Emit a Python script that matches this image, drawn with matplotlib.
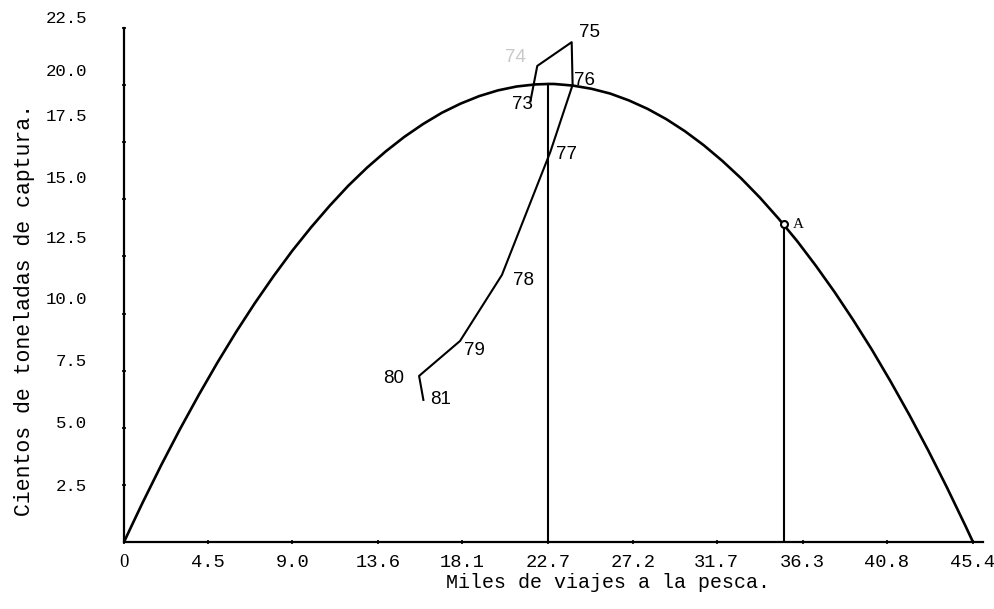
import matplotlib
matplotlib.use("Agg")
import matplotlib.pyplot as plt
from matplotlib.transforms import offset_copy

# ---- data ----
# sustainable-yield curve (thousands of trips, hundreds of tons)
curve_x = [0, 0.5, 1, 2, 3, 4, 5, 6, 7, 8, 9, 10, 11, 12, 13, 14, 15, 16, 17,
           18, 19, 20, 21, 22, 22.7, 23, 24, 25, 26, 27, 28, 29, 30, 31, 32,
           33, 34, 35, 36, 37, 38, 39, 40, 41, 42, 43, 44, 45, 45.4]
curve_y = [0.0, 0.87, 1.73, 3.38, 4.95, 6.44, 7.86, 9.20, 10.46, 11.64, 12.75,
           13.77, 14.72, 15.60, 16.39, 17.10, 17.74, 18.30, 18.79, 19.19, 19.52,
           19.77, 19.94, 20.03, 20.05, 20.05, 19.98, 19.84, 19.63, 19.33, 18.96,
           18.51, 17.98, 17.37, 16.68, 15.92, 15.08, 14.16, 13.17, 12.09, 10.94,
           9.71, 8.41, 7.02, 5.56, 4.02, 2.40, 0.70, 0.0]

# observed yearly trajectory
years = ["73", "74", "75", "76", "77", "78", "79", "80", "81"]
traj_x = [21.73, 22.10, 23.94, 23.99, 22.80, 20.21, 17.97, 15.78, 16.01]
traj_y = [19.28, 20.84, 21.88, 20.01, 17.08, 11.69, 8.80, 7.27, 6.22]

# maximum sustainable yield and point A
msy_x, msy_y = 22.7, 20.05
a_x, a_y = 35.3, 13.9

xticks = [0, 4.5, 9.0, 13.6, 18.1, 22.7, 27.2, 31.7, 36.3, 40.8, 45.4]
xtick_labels = ["0", "4.5", "9.0", "13.6", "18.1", "22.7", "27.2", "31.7",
                "36.3", "40.8", "45.4"]
yticks = [2.5, 5.0, 7.5, 10.0, 12.5, 15.0, 17.5, 20.0, 22.5]
ytick_labels = ["2.5", "5.0", "7.5", "10.0", "12.5", "15.0", "17.5", "20.0", "22.5"]

# ---- layout ----
W, H = 994, 609
fig = plt.figure(figsize=(W / 100, H / 100), dpi=100)
ax = fig.add_axes([124 / W, 67 / H, 859 / W, 514 / H])
ax.set_xlim(0, 859 / 18.70)
ax.set_ylim(0, 22.5)

mono = "Liberation Mono"
for s in ["top", "right"]:
    ax.spines[s].set_visible(False)
for s in ["left", "bottom"]:
    ax.spines[s].set_linewidth(1.6)
    ax.spines[s].set_color("black")

ax.set_xticks(xticks)
ax.set_xticklabels(xtick_labels, fontfamily=mono, fontsize=13.5)
ax.set_yticks(yticks)
ax.set_yticklabels(ytick_labels, fontfamily=mono, fontsize=12.5)
ax.tick_params(axis="x", direction="inout", length=3, width=1.2, pad=7)
ax.tick_params(axis="y", direction="inout", length=3, width=1.2, pad=25)

# origin label typed in a serif face
ax.get_xticklabels()[0].set_fontfamily("Liberation Serif")

# typed y labels sit slightly above their tick marks in the original
ylabel_shift_px = [0, 6, 11, 16, 19, 22, 27, 15, 11]
for tick, dy in zip(ax.yaxis.get_major_ticks(), ylabel_shift_px):
    lbl = tick.label1
    lbl.set_transform(offset_copy(lbl.get_transform(), fig=fig, x=0, y=dy * 0.72, units="points"))

# curve
ax.plot(curve_x, curve_y, color="black", lw=1.9, solid_joinstyle="round", zorder=3)

# vertical lines
ax.plot([msy_x, msy_x], [0, msy_y], color="black", lw=1.5, zorder=2)
ax.plot([a_x, a_x], [0, a_y], color="black", lw=1.5, zorder=2)

# trajectory
ax.plot(traj_x, traj_y, color="black", lw=1.5, zorder=4)

# year labels (offsets in points)
label_off = {
    "73": (1.5, -2, "right"),
    "74": (-8, 6, "right"),
    "75": (5, 7, "left"),
    "76": (1, 3, "left"),
    "77": (4, -2, "left"),
    "78": (8, -4, "left"),
    "79": (3, -7, "left"),
    "80": (-11, -2, "right"),
    "81": (5, 0, "left"),
}
for yr, x, y in zip(years, traj_x, traj_y):
    dx, dy, ha = label_off[yr]
    ax.annotate(yr, (x, y), xytext=(dx, dy), textcoords="offset points",
                ha=ha, va="center", fontsize=13.5, fontfamily="Liberation Sans",
                color="#c8c8c8" if yr == "74" else "black")

# point A
ax.plot([a_x], [a_y], marker="o", ms=5, mfc="white", mec="black", mew=1.5, zorder=5)
ax.annotate("A", (a_x, a_y), xytext=(6, 0), textcoords="offset points",
            ha="left", va="center", fontsize=11, fontfamily="Liberation Serif")

# axis titles
ax.set_xlabel("Miles de viajes a la pesca.", fontfamily=mono, fontsize=14.4, va="center")
ax.xaxis.set_label_coords((608 - 124) / 859, (542 - 583) / 514)
ax.set_ylabel("Cientos de toneladas de captura.", fontfamily=mono, fontsize=15.5, va="center")
ax.yaxis.set_label_coords((25 - 124) / 859, (542 - 310) / 514)

fig.savefig("out.png", dpi=100)
